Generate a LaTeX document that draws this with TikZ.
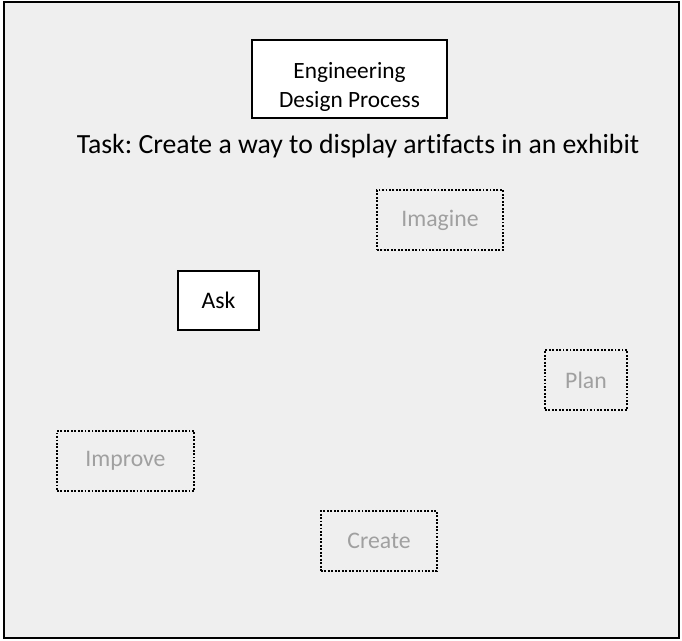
\documentclass[tikz,border=0pt]{standalone}
\usepackage{fontspec}
\setmainfont{Carlito}[Ligatures=NoCommon]
\usetikzlibrary{positioning}
\definecolor{PanelGray}{RGB}{239,239,239}
\definecolor{StepGray}{RGB}{160,160,160}
\frenchspacing

\begin{document}
\begin{tikzpicture}[x=0.75pt, y=-0.75pt, every node/.style={align=center}]
  \tikzset{
    frame/.style={draw, line width=1.5pt, fill=PanelGray},
    titlebox/.style={draw, line width=1.5pt, fill=white, inner sep=0pt, font=\fontsize{17.5}{22}\selectfont},
    askbox/.style={draw, line width=1.5pt, fill=white, inner sep=0pt, font=\fontsize{17.8}{20}\selectfont},
    stagebox/.style={draw, line width=1.4pt, dash pattern=on 1.4pt off 1.2pt, inner sep=0pt, minimum height=45pt, text=StepGray, font=\fontsize{17.8}{20}\selectfont}
  }
  \useasboundingbox (0,0) rectangle (682,640);
  \draw[frame] (4,2) rectangle (679,638);
  \node[titlebox, minimum width=146pt, minimum height=58.5pt] (edp) at (349.5,79) {\rule{0pt}{24pt}Engineering\\Design Process};
  \node[font=\fontsize{20.8}{24}\selectfont] (task) at (358,146) {Task: Create a way to display artifacts in an exhibit};
  \node[stagebox, minimum width=94.5pt] (imagine) at (440,220) {Imagine};
  \node[askbox, minimum width=61pt, minimum height=44pt] (ask) at (218.5,300.5) {Ask};
  \node[stagebox, minimum width=61.5pt] (plan) at (586,380) {Plan};
  \node[stagebox, minimum width=103pt] (improve) at (125.5,461) {Improve};
  \node[stagebox, minimum width=87pt] (create) at (379,541) {Create};
\end{tikzpicture}
\end{document}
